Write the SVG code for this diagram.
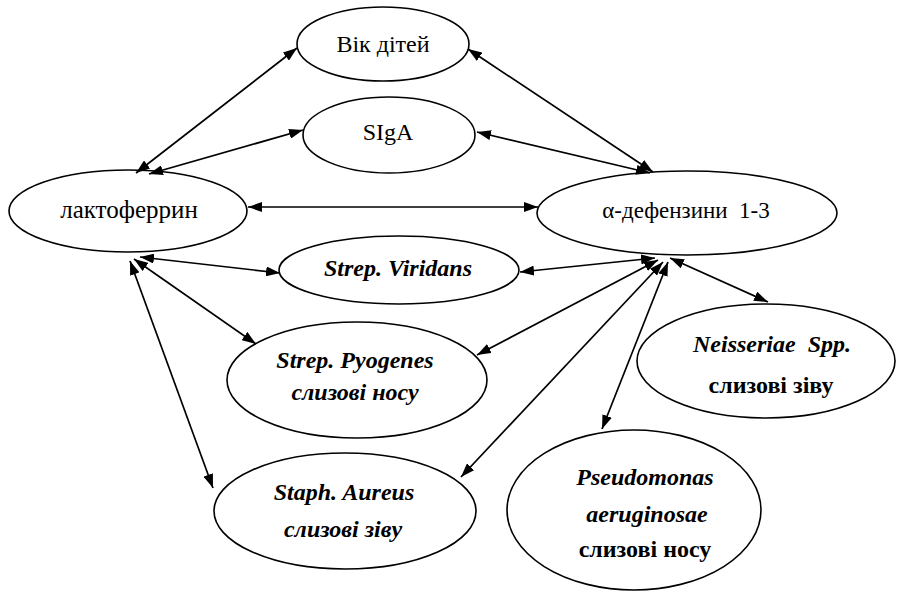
<svg xmlns="http://www.w3.org/2000/svg" width="898" height="594" viewBox="0 0 898 594">
<style>
.node ellipse{fill:#fff;stroke:#000;stroke-width:1.6}
.t{font-family:'Liberation Serif','DejaVu Serif',serif;font-size:24px;fill:#000;text-anchor:middle}
.bi{font-weight:bold;font-style:italic}
.b{font-weight:bold}
#connectors line{stroke:#000;stroke-width:1.7;marker-start:url(#ah);marker-end:url(#ah)}
</style>
<defs>
<marker id="ah" viewBox="0 0 14 10" refX="14" refY="5" markerWidth="14" markerHeight="10" markerUnits="userSpaceOnUse" orient="auto-start-reverse">
<path d="M0,0 L14,5 L0,10 z" fill="#000"/>
</marker>
</defs>
<rect width="898" height="594" fill="#fff"/>
<g id="n-vik" class="node"><ellipse cx="383" cy="44" rx="86" ry="37"/><text class="t" x="383" y="52">Вік дітей</text></g>
<g id="n-siga" class="node"><ellipse cx="389" cy="135" rx="86" ry="38"/><text class="t" x="388" y="140">SIgA</text></g>
<g id="n-lakto" class="node"><ellipse cx="128" cy="211" rx="119" ry="41"/><text class="t" x="129" y="218" style="font-size:25px">лактоферрин</text></g>
<g id="n-alpha" class="node"><ellipse cx="687" cy="213" rx="150" ry="42"/><text class="t" x="686" y="218" style="font-size:23px" xml:space="preserve">α-дефензини  1-3</text></g>
<g id="n-viridans" class="node"><ellipse cx="399" cy="270" rx="120" ry="34"/><text class="t bi" x="398" y="276">Strep. Viridans</text></g>
<g id="n-pyogenes" class="node"><ellipse cx="357" cy="380" rx="130" ry="58"/><text class="t bi" x="355" y="368">Strep. Pyogenes</text><text class="t bi" x="355" y="400">слизові носу</text></g>
<g id="n-neisseriae" class="node"><ellipse cx="766" cy="361" rx="129" ry="57"/><text class="t bi" x="772" y="352" xml:space="preserve">Neisseriae  Spp.</text><text class="t b" x="771" y="393">слизові зіву</text></g>
<g id="n-staph" class="node"><ellipse cx="345" cy="511" rx="131" ry="58"/><text class="t bi" x="344" y="500">Staph. Aureus</text><text class="t bi" x="343" y="537">слизові зіву</text></g>
<g id="n-pseudo" class="node"><ellipse cx="634" cy="510" rx="127" ry="80"/><text class="t bi" x="645" y="485">Pseudomonas</text><text class="t bi" x="647" y="522">aeruginosae</text><text class="t b" x="645" y="557">слизові носу</text></g>
<g id="connectors">
<line x1="136" y1="173" x2="297" y2="48"/>
<line x1="149" y1="174" x2="303" y2="130"/>
<line x1="248" y1="207" x2="538" y2="207"/>
<line x1="653" y1="172" x2="468" y2="49"/>
<line x1="650" y1="173" x2="477" y2="132"/>
<line x1="140" y1="257" x2="280" y2="273"/>
<line x1="134" y1="259" x2="256" y2="344"/>
<line x1="130" y1="261" x2="213" y2="488"/>
<line x1="655" y1="258" x2="520" y2="272"/>
<line x1="658" y1="260" x2="477" y2="355"/>
<line x1="670" y1="258" x2="768" y2="302"/>
<line x1="663" y1="262" x2="461" y2="477"/>
<line x1="668" y1="262" x2="602" y2="429"/>
</g>
</svg>
